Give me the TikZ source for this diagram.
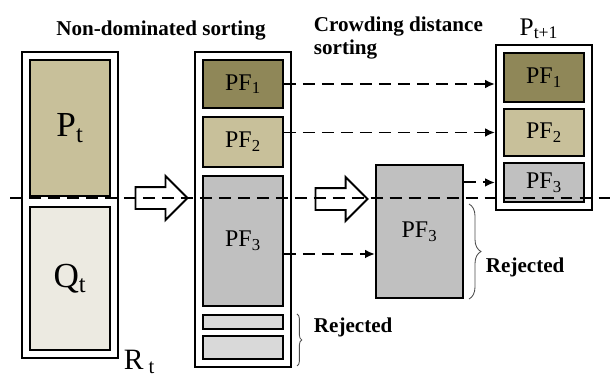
\documentclass[tikz,border=0pt]{standalone}
\usepackage{fontspec}
\setmainfont{Liberation Serif}
\usepackage{tikz}
\usetikzlibrary{arrows.meta,positioning,shapes.arrows,fit,decorations.pathreplacing}
\definecolor{pfdark}{RGB}{143,135,88}
\definecolor{pftan}{RGB}{200,192,154}
\definecolor{pflight}{RGB}{236,234,225}
\definecolor{pfgray}{RGB}{192,192,192}
\definecolor{pfpale}{RGB}{217,217,217}

\begin{document}
\begin{tikzpicture}[
    x=0.025cm, y=-0.025cm,
    box/.style={draw, line width=1.4pt, minimum width=2cm, inner sep=0pt, font=\fontsize{17}{20}\selectfont},
    big/.style={font=\fontsize{25}{30}\selectfont},
    pop/.style={draw, line width=1.4pt, inner sep=0.175cm},
    lbl/.style={font=\fontsize{15}{16.5}\selectfont\bfseries},
    darr/.style={-{Latex[length=2.5mm,width=2.2mm]}, line width=1.4pt, dash pattern=on 8.5pt off 5pt},
    cut/.style={line width=1.4pt, dash pattern=on 8.5pt off 5pt},
    hollow/.style={draw, single arrow, fill=white, line width=1.4pt, inner xsep=0pt, inner ysep=0.25cm, single arrow head extend=0.275cm, minimum height=1.3cm},
    brc/.style={decorate, decoration={brace, amplitude=#1}, line width=0.6pt, black!70},
]
\useasboundingbox (0,0) rectangle (616,377);
% Combined population
\node[box, big, fill=pftan, minimum height=3.4cm] (pt) at (70,128) {P\textsubscript{t}};
\node[box, big, fill=pflight, minimum height=3.575cm, below=0.225cm of pt] (qt) {Q\textsubscript{t}};
\node[pop, fit=(pt)(qt)] (rt) {};
\node[font=\fontsize{21}{24}\selectfont, anchor=base west] (rtlbl) at (119,369) {R\,\textsubscript{t}};
% Fronts after non-dominated sorting
\node[box, fill=pfdark, minimum height=1.2cm] (pf1) at (243,84) {PF\textsubscript{1}};
\node[box, fill=pftan, minimum height=1.25cm, below=0.175cm of pf1] (pf2) {PF\textsubscript{2}};
\node[box, fill=pfgray, minimum height=3.25cm, below=0.175cm of pf2] (pf3) {PF\textsubscript{3}};
\node[box, fill=pfpale, minimum height=0.35cm, below=0.175cm of pf3] (rest1) {};
\node[box, fill=pfpale, minimum height=0.575cm, below=0.125cm of rest1] (rest2) {};
\node[pop, fit=(pf1)(rest2)] (fronts) {};
% Crowding distance sorting
\node[box, fill=pfgray, minimum width=2.175cm, minimum height=3.325cm] (cpf3) at (419.5,231.5) {PF\textsubscript{3}};
% Next population
\node[box, fill=pfdark, minimum height=1.225cm] (npf1) at (544,77.5) {PF\textsubscript{1}};
\node[box, fill=pftan, minimum height=1.175cm, below=0.125cm of npf1] (npf2) {PF\textsubscript{2}};
\node[box, fill=pfgray, minimum height=0.975cm, below=0.125cm of npf2] (npf3) {PF\textsubscript{3}};
\node[pop, fit=(npf1)(npf3)] (pnext) {};
\node[font=\fontsize{18}{21}\selectfont, anchor=base] (pnextlbl) at (539,35) {P\textsubscript{t+1}};
% Titles
\node[lbl] (ndslbl) at (161,31) {Non-dominated sorting};
\node[lbl, align=left, anchor=north west] (cdslbl) at (309,12) {Crowding distance\\sorting};
% Hollow arrows
\node[hollow] (go1) at (156,198) {};
\node[hollow] (go2) at (336,199) {};
% Dashed arrows
\draw[darr] (pf1.east) -- (pf1.east -| pnext.west);
\draw[darr] (pf2.east |- npf2) -- (npf2 -| pnext.west);
\draw[darr] ([yshift=-0.325cm]pf3.east) -- ([yshift=-0.325cm]pf3.east -| cpf3.west);
\draw[darr] (cpf3.east |- npf3) -- (npf3 -| pnext.west);
% Rejected
\draw[brc=0.3cm] ([xshift=0.125cm,yshift=-1cm]cpf3.north east) -- ([xshift=0.125cm]cpf3.south east);
\node[lbl, anchor=west] (rejlbl1) at (481,267) {Rejected};
\draw[brc=0.12cm] ([xshift=0.325cm]rest1.north east) -- ([xshift=0.325cm,yshift=-0.15cm]rest2.south east);
\node[lbl, anchor=west] (rejlbl2) at (309,327) {Rejected};
% Cut line
\coordinate (cutl) at (10,198);
\coordinate (cutr) at (616,198);
\draw[cut] (cutl) -- (cutr);
\end{tikzpicture}
\end{document}
